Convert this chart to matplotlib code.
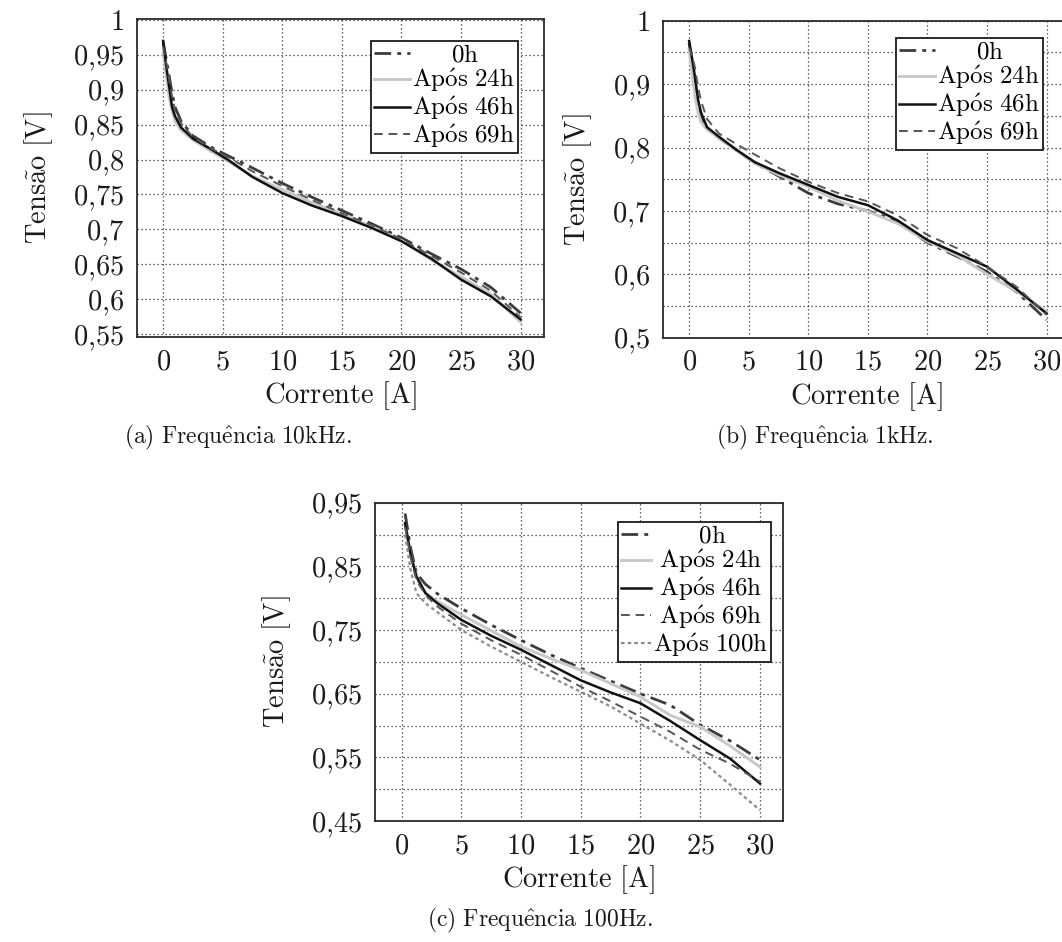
import matplotlib
matplotlib.use("Agg")
import matplotlib.pyplot as plt
from matplotlib.lines import Line2D

plt.rcParams['mathtext.fontset'] = 'cm'
plt.rcParams['font.family'] = 'serif'

# ---------------- data ----------------
# (a) 10 kHz
corrente_a = [0, 0.25, 0.5, 0.75, 1, 1.5, 2.5, 4, 5.5, 7.5, 10, 12.5, 15, 17.5, 20, 22.5, 25, 27.5, 30]
tensao_a_0h = [0.968, 0.945, 0.92, 0.895, 0.875, 0.855, 0.834, 0.818, 0.805, 0.788, 0.766, 0.746, 0.727, 0.708, 0.688, 0.665, 0.643, 0.617, 0.580]
tensao_a_24h = [0.955, 0.92, 0.89, 0.87, 0.855, 0.842, 0.828, 0.812, 0.797, 0.776, 0.757, 0.738, 0.722, 0.704, 0.684, 0.656, 0.632, 0.607, 0.567]
tensao_a_46h = [0.970, 0.935, 0.905, 0.875, 0.862, 0.846, 0.830, 0.815, 0.799, 0.775, 0.752, 0.734, 0.719, 0.702, 0.683, 0.658, 0.628, 0.604, 0.571]
tensao_a_69h = [0.962, 0.94, 0.915, 0.89, 0.87, 0.852, 0.832, 0.816, 0.803, 0.783, 0.762, 0.742, 0.723, 0.706, 0.686, 0.662, 0.638, 0.612, 0.574]

# (b) 1 kHz
corrente_b = [0, 0.25, 0.5, 0.75, 1, 1.5, 2.5, 4, 5.5, 7.5, 10, 12.5, 15, 17.5, 20, 22.5, 25, 27.5, 30]
tensao_b_0h = [0.965, 0.93, 0.895, 0.865, 0.845, 0.83, 0.815, 0.795, 0.776, 0.755, 0.728, 0.711, 0.700, 0.684, 0.650, 0.628, 0.604, 0.572, 0.528]
tensao_b_24h = [0.955, 0.915, 0.88, 0.855, 0.84, 0.828, 0.815, 0.795, 0.775, 0.757, 0.738, 0.716, 0.699, 0.680, 0.652, 0.630, 0.600, 0.573, 0.541]
tensao_b_46h = [0.968, 0.94, 0.91, 0.875, 0.855, 0.832, 0.817, 0.796, 0.777, 0.760, 0.741, 0.722, 0.709, 0.685, 0.654, 0.633, 0.612, 0.576, 0.538]
tensao_b_69h = [0.958, 0.945, 0.925, 0.895, 0.873, 0.845, 0.822, 0.805, 0.789, 0.768, 0.746, 0.728, 0.715, 0.693, 0.662, 0.641, 0.612, 0.580, 0.536]

# (c) 100 Hz
corrente_c = [0.3, 0.75, 1.25, 2, 3, 5, 7.5, 10, 12.5, 15, 17.5, 20, 22.5, 25, 27.5, 30]
tensao_c_0h = [0.933, 0.88, 0.839, 0.822, 0.807, 0.784, 0.758, 0.734, 0.711, 0.690, 0.670, 0.650, 0.632, 0.601, 0.576, 0.546]
tensao_c_24h = [0.915, 0.87, 0.834, 0.808, 0.795, 0.774, 0.749, 0.724, 0.705, 0.687, 0.666, 0.645, 0.616, 0.598, 0.568, 0.535]
tensao_c_46h = [0.918, 0.87, 0.834, 0.808, 0.792, 0.766, 0.741, 0.719, 0.695, 0.671, 0.652, 0.635, 0.607, 0.577, 0.548, 0.509]
tensao_c_69h = [0.912, 0.865, 0.828, 0.805, 0.787, 0.760, 0.734, 0.711, 0.686, 0.661, 0.638, 0.614, 0.590, 0.562, 0.540, 0.512]
tensao_c_100h = [0.899, 0.845, 0.808, 0.792, 0.778, 0.750, 0.724, 0.700, 0.676, 0.653, 0.630, 0.603, 0.576, 0.546, 0.507, 0.467]

x_ticks = [0, 5, 10, 15, 20, 25, 30]
x_labels = ['0', '5', '10', '15', '20', '25', '30']
y_ticks_a = [0.55, 0.6, 0.65, 0.7, 0.75, 0.8, 0.85, 0.9, 0.95, 1.0]
y_labels_a = ['0,55', '0,6', '0,65', '0,7', '0,75', '0,8', '0,85', '0,9', '0,95', '1']
y_ticks_b = [0.5, 0.6, 0.7, 0.8, 0.9, 1.0]
y_labels_b = ['0,5', '0,6', '0,7', '0,8', '0,9', '1']
y_ticks_c = [0.45, 0.55, 0.65, 0.75, 0.85, 0.95]
y_labels_c = ['0,45', '0,55', '0,65', '0,75', '0,85', '0,95']

# ---------------- styles ----------------
STYLES = {
    '0h':   dict(color='#3c3c3c', lw=2.0, dashes=(6, 2.2, 1.4, 2.2)),
    '24h':  dict(color='#c8c8c8', lw=2.1, linestyle='-'),
    '46h':  dict(color='#111111', lw=1.8, linestyle='-'),
    '69h':  dict(color='#555555', lw=1.4, dashes=(4.5, 3.0)),
    '100h': dict(color='#8c8c8c', lw=1.6, dashes=(1.6, 1.4)),
}


def mt(s):
    """Wrap plain text as upright Computer Modern mathtext."""
    return r'$\mathrm{' + s + '}$'


W, H = 1062.0, 942.0
fig = plt.figure(figsize=(W / 100, H / 100), dpi=100)


def add_axes_px(left, top, right, bottom):
    return fig.add_axes([left / W, 1 - bottom / H, (right - left) / W, (bottom - top) / H])


def style_axes(ax, ylim, yticks, ylabels, yminor=None):
    ax.set_xlim(-2.22, 31.93)
    ax.set_ylim(*ylim)
    ax.set_xticks(x_ticks, labels=[mt(t) for t in x_labels])
    ax.set_yticks(yticks, labels=[mt(t.replace(',', '{,}')) for t in ylabels])
    if yminor is not None:
        ax.set_yticks(yminor, minor=True)
    ax.tick_params(axis='both', which='both', length=0, labelsize=20.5, colors='#1a1a1a')
    ax.tick_params(axis='y', pad=9)
    ax.tick_params(axis='x', pad=8)
    ax.grid(True, which='both', linestyle=(0, (1, 2.2)), color='#333333', lw=0.9)
    ax.set_axisbelow(True)
    for sp in ax.spines.values():
        sp.set_color('#2a2a2a')
        sp.set_linewidth(1.3)
    ax.set_xlabel(mt(r'Corrente\ [A]'), fontsize=20.5, labelpad=3, color='#1a1a1a')
    ax.set_ylabel(mt(r'Tens\~{a}o\ [V]'), fontsize=20.5, labelpad=13, color='#1a1a1a')


def add_legend(ax, keys, labels, anchor_px, handlelength):
    handles = [Line2D([], [], **STYLES[k]) for k in keys]
    leg = ax.legend(handles, labels, loc='upper right',
                    bbox_to_anchor=(anchor_px[0] / W, 1 - anchor_px[1] / H),
                    bbox_transform=fig.transFigure, borderaxespad=0,
                    fontsize=18, frameon=True, fancybox=False, framealpha=1,
                    edgecolor='#1a1a1a', handlelength=handlelength,
                    handletextpad=0.08, labelspacing=0.0, borderpad=0.12)
    leg.get_frame().set_linewidth(1.3)
    return leg


lbl4 = [mt(r'\hspace{1.79}0h'), mt(r"Ap\'{o}s\ 24h"), mt(r"Ap\'{o}s\ 46h"), mt(r"Ap\'{o}s\ 69h")]

# (a) 10 kHz
ax_a = add_axes_px(136.7, 19, 543.6, 337)
ax_a.plot(corrente_a, tensao_a_0h, **STYLES['0h'])
ax_a.plot(corrente_a, tensao_a_24h, **STYLES['24h'])
ax_a.plot(corrente_a, tensao_a_46h, **STYLES['46h'])
ax_a.plot(corrente_a, tensao_a_69h, **STYLES['69h'])
style_axes(ax_a, (0.5457, 1.0014), y_ticks_a, y_labels_a)
add_legend(ax_a, ['0h', '24h', '46h', '69h'], lbl4, (517.7, 40.7), 1.45)

# (b) 1 kHz
ax_b = add_axes_px(662.7, 20.7, 1069.6, 337.7)
ax_b.plot(corrente_b, tensao_b_0h, **STYLES['0h'])
ax_b.plot(corrente_b, tensao_b_24h, **STYLES['24h'])
ax_b.plot(corrente_b, tensao_b_46h, **STYLES['46h'])
ax_b.plot(corrente_b, tensao_b_69h, **STYLES['69h'])
style_axes(ax_b, (0.5, 1.0), y_ticks_b, y_labels_b,
           yminor=[0.55, 0.65, 0.75, 0.85, 0.95])
add_legend(ax_b, ['0h', '24h', '46h', '69h'], lbl4, (1042.7, 37.7), 1.45)

# (c) 100 Hz
ax_c = add_axes_px(375, 502.7, 783, 821)
ax_c.plot(corrente_c, tensao_c_0h, **STYLES['0h'])
ax_c.plot(corrente_c, tensao_c_24h, **STYLES['24h'])
ax_c.plot(corrente_c, tensao_c_46h, **STYLES['46h'])
ax_c.plot(corrente_c, tensao_c_69h, **STYLES['69h'])
ax_c.plot(corrente_c, tensao_c_100h, **STYLES['100h'])
style_axes(ax_c, (0.45, 0.95), y_ticks_c, y_labels_c,
           yminor=[0.5, 0.6, 0.7, 0.8, 0.9])
lbl5 = [mt(r'\hspace{2.09}0h'), mt(r"\hspace{0.3}Ap\'{o}s\ 24h"), mt(r"\hspace{0.3}Ap\'{o}s\ 46h"),
        mt(r"\hspace{0.3}Ap\'{o}s\ 69h"), mt(r"Ap\'{o}s\ 100h")]
add_legend(ax_c, ['0h', '24h', '46h', '69h', '100h'], lbl5, (771, 521.7), 1.2)

# sub-captions
cap_kw = dict(fontsize=17, ha='center', va='center', color='#1a1a1a')
fig.text(238 / W, 1 - 437 / H, mt(r'(a)\ Frequ\^{e}ncia\ 10kHz.'), **cap_kw)
fig.text(825 / W, 1 - 437 / H, mt(r'(b)\ Frequ\^{e}ncia\ 1kHz.'), **cap_kw)
fig.text(540 / W, 1 - 920 / H, mt(r'(c)\ Frequ\^{e}ncia\ 100Hz.'), **cap_kw)

fig.savefig('out.png', dpi=100)
